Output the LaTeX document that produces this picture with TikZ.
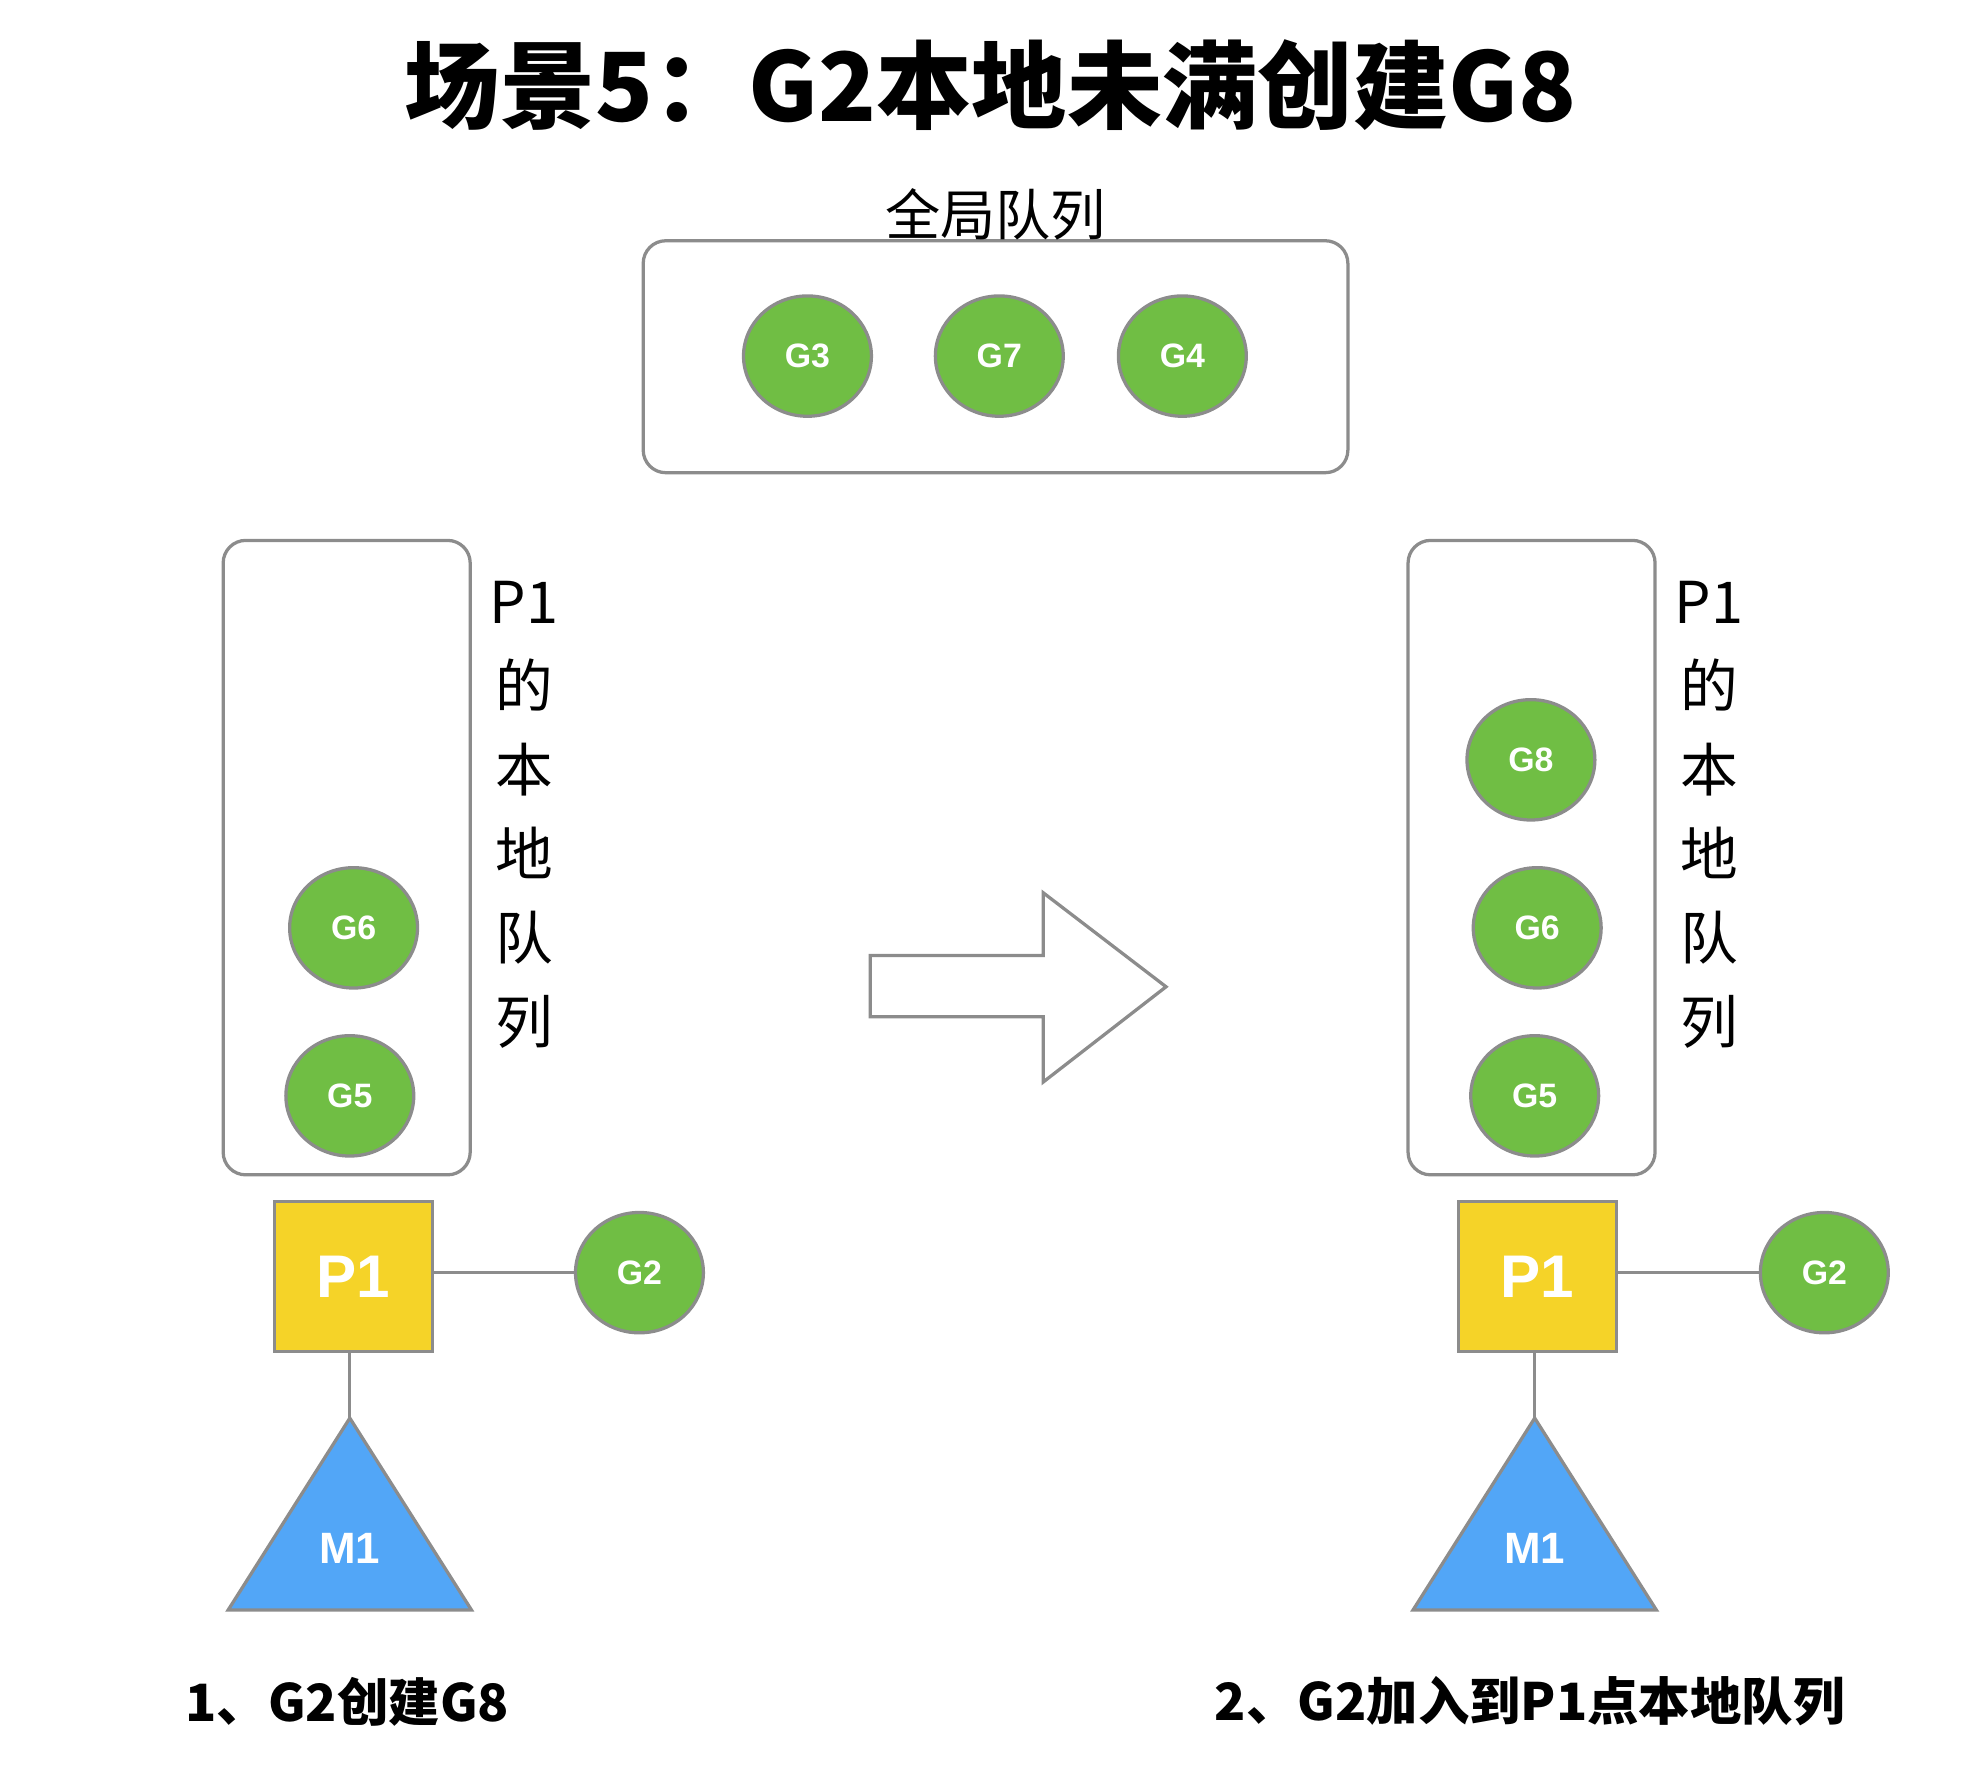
\documentclass[tikz,border=0pt]{standalone}
\usepackage{fontspec}
\setmainfont{Noto Sans CJK SC}
\newfontfamily\gfont{Liberation Sans}
\usetikzlibrary{positioning,shapes.geometric}
\definecolor{gfill}{RGB}{112,190,68}
\definecolor{bordergray}{RGB}{140,140,140}
\definecolor{pyellow}{RGB}{245,211,40}
\definecolor{mblue}{RGB}{82,166,247}
\tikzset{
  gnode/.style={ellipse,draw=bordergray,fill=gfill,line width=2.6pt,minimum width=102pt,minimum height=96pt,inner sep=0pt,text=white,font=\gfont\bfseries\fontsize{27}{27}\selectfont},
  qbox/.style={rectangle,draw=bordergray,rounded corners=18pt,line width=2.6pt,inner sep=0pt},
  pnode/.style={rectangle,draw=bordergray,fill=pyellow,line width=2.6pt,minimum width=126pt,minimum height=120pt,inner sep=0pt,text=white,font=\gfont\bfseries\fontsize{48}{48}\selectfont},
  mtri/.style={draw=bordergray,fill=mblue,line width=2.6pt,line join=miter},
  mlbl/.style={text=white,font=\gfont\bfseries\fontsize{35}{35}\selectfont},
  link/.style={draw=bordergray,line width=2.6pt},
  vlbl/.style={align=center,font=\fontsize{46}{67}\selectfont},
  caplbl/.style={font=\bfseries\fontsize{41}{41}\selectfont}
}

\begin{document}
\begin{tikzpicture}[x=1pt,y=-1pt]
  \useasboundingbox (0,0) rectangle (1568,1421);
  % Title
  \node[font=\bfseries\fontsize{76}{76}\selectfont] (title) at (790,68) {场景5：G2本地未满创建G8};

  % Global queue
  \node[qbox, minimum width=562pt, minimum height=185pt] (gq) at (794,284.5) {};
  \node[font=\fontsize{44}{44}\selectfont, above=-4pt of gq] (gqlbl) {全局队列};
  \foreach \n/\x in {G3/644,G7/797,G4/943}
    \node[gnode] (\n) at (\x,284) {\n};

  % Left: local queue of P1
  \node[qbox, minimum width=197pt, minimum height=506pt] (lq) at (276.5,684) {};
  \node[vlbl] (lqlbl) at (418,650) {P1\\的\\本\\地\\队\\列};
  \node[gnode] (lg6) at (282,740) {G6};
  \node[gnode] (lg5) at (279,874) {G5};

  % Left: P1, G2, M1
  \node[pnode] (lp1) at (282,1018) {P1};
  \node[gnode] (lg2) at (510,1015) {G2};
  \coordinate (lmtop) at (279,1131);
  \coordinate (lmleft) at (182,1284);
  \coordinate (lmright) at (376,1284);
  \draw[mtri] (lmtop) -- (lmright) -- (lmleft) -- cycle;
  \node[mlbl] (lm1) at (279,1235) {M1};
  \draw[link] (lp1.east |- lg2.west) -- (lg2.west);
  \draw[link] (lp1.south -| lmtop) -- (lmtop);
  \node[caplbl] (lcap) at (277,1357) {1、G2创建G8};

  % Block arrow
  \draw[link, fill=white, line join=miter] (694,762) -- (832,762) -- (832,712) -- (930,787)
    -- (832,863) -- (832,811) -- (694,811) -- cycle;

  % Right: local queue of P1
  \node[qbox, minimum width=197pt, minimum height=506pt] (rq) at (1221.5,684) {};
  \node[vlbl] (rqlbl) at (1363,650) {P1\\的\\本\\地\\队\\列};
  \node[gnode] (rg8) at (1221,606) {G8};
  \node[gnode] (rg6) at (1226,740) {G6};
  \node[gnode] (rg5) at (1224,874) {G5};

  % Right: P1, G2, M1
  \node[pnode] (rp1) at (1226,1018) {P1};
  \node[gnode] (rg2) at (1455,1015) {G2};
  \coordinate (rmtop) at (1224,1131);
  \coordinate (rmleft) at (1127,1284);
  \coordinate (rmright) at (1321,1284);
  \draw[mtri] (rmtop) -- (rmright) -- (rmleft) -- cycle;
  \node[mlbl] (rm1) at (1224,1235) {M1};
  \draw[link] (rp1.east |- rg2.west) -- (rg2.west);
  \draw[link] (rp1.south -| rmtop) -- (rmtop);
  \node[caplbl] (rcap) at (1220,1357) {2、G2加入到P1点本地队列};
\end{tikzpicture}
\end{document}
